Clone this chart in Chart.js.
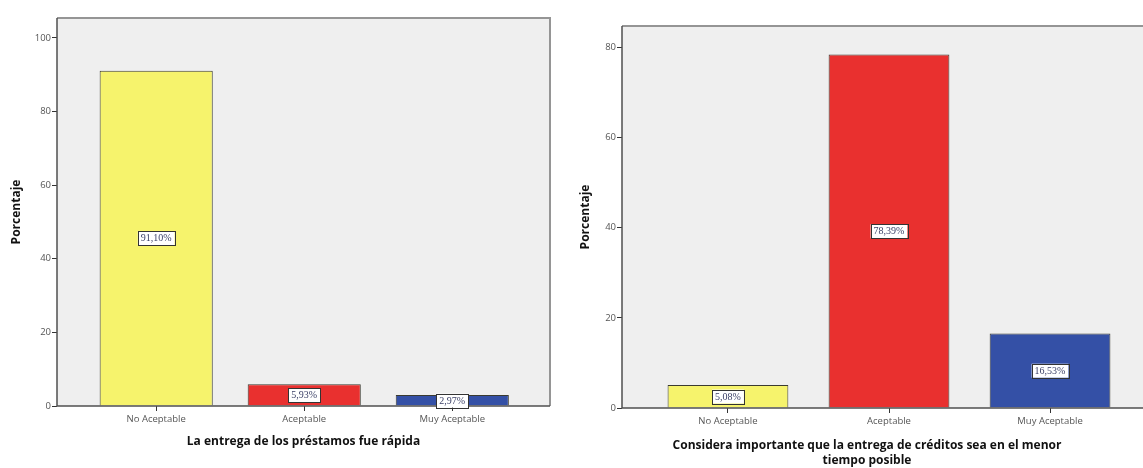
<!DOCTYPE html>
<html>
<head>
<meta charset="utf-8">
<script src="https://cdn.jsdelivr.net/npm/chart.js@4.4.1/dist/chart.umd.min.js"></script>
<style>
  html, body { margin: 0; padding: 0; background: #fff; overflow: hidden; width: 1143px; height: 468px; }
  #rapidez { position: absolute; left: 0; top: 0; }
  #importancia { position: absolute; left: 578px; top: 0; }
</style>
</head>
<body>
<canvas id="rapidez" width="565" height="468"></canvas>
<canvas id="importancia" width="592" height="468"></canvas>
<script>
// Categorías de respuesta
const categorias = ['No Aceptable', 'Aceptable', 'Muy Aceptable'];

// Porcentajes por pregunta
const entregaRapida = [91.10, 5.93, 2.97];
const entregaMenorTiempo = [5.08, 78.39, 16.53];

// Marcas del eje Y
const ticksRapida = [0, 20, 40, 60, 80, 100];
const ticksMenorTiempo = [0, 20, 40, 60, 80];

// Textos
const tituloEjeY = 'Porcentaje';
const tituloRapida = 'La entrega de los préstamos fue rápida';
const tituloMenorTiempo = ['Considera importante que la entrega de créditos sea en el menor', 'tiempo posible'];

const coloresBarras = ['#f6f36c', '#e9302f', '#3450a6'];
const fuenteTexto = '"Open Sans", "DejaVu Sans", sans-serif';

// Fondo gris y marco del área de trazado
const marcoPlot = {
  id: 'marcoPlot',
  beforeDraw(chart) {
    const { ctx, chartArea: a } = chart;
    ctx.save();
    ctx.fillStyle = '#efefef';
    ctx.fillRect(a.left, a.top, a.right - a.left, a.bottom - a.top);
    ctx.restore();
  },
  afterDatasetsDraw(chart) {
    const { ctx, chartArea: a } = chart;
    ctx.save();
    ctx.strokeStyle = '#959595';
    ctx.lineWidth = 2;
    ctx.beginPath();
    ctx.moveTo(a.left, a.top);
    ctx.lineTo(a.right, a.top);
    ctx.lineTo(a.right, a.bottom);
    ctx.stroke();
    ctx.strokeStyle = '#505050';
    ctx.lineWidth = 1.5;
    ctx.beginPath();
    ctx.moveTo(a.left, a.top);
    ctx.lineTo(a.left, a.bottom);
    ctx.lineTo(a.right, a.bottom);
    ctx.stroke();
    ctx.restore();
  }
};

// Etiqueta de porcentaje en el centro de cada barra
const etiquetasValor = {
  id: 'etiquetasValor',
  afterDatasetsDraw(chart) {
    const { ctx } = chart;
    const yScale = chart.scales.y;
    chart.data.datasets.forEach((ds, di) => {
      chart.getDatasetMeta(di).data.forEach((bar, i) => {
        const v = ds.data[i].y;
        const texto = v.toFixed(2).replace('.', ',') + '%';
        const cy = yScale.getPixelForValue(v / 2);
        ctx.save();
        ctx.font = '10px "Liberation Serif", serif';
        const w = ctx.measureText(texto).width + 6;
        const h = 14;
        ctx.fillStyle = '#ffffff';
        ctx.fillRect(bar.x - w / 2, cy - h / 2, w, h);
        ctx.strokeStyle = '#333333';
        ctx.lineWidth = 1;
        ctx.strokeRect(Math.round(bar.x - w / 2) + 0.5, Math.round(cy - h / 2) + 0.5, Math.round(w), h);
        ctx.fillStyle = '#3a3f66';
        ctx.textAlign = 'center';
        ctx.textBaseline = 'middle';
        ctx.fillText(texto, bar.x, cy + 0.5);
        ctx.restore();
      });
    });
  }
};

function crearGrafico(id, valores, cfg) {
  const datos = categorias.map((c, i) => ({ x: i, y: valores[i] }));
  return new Chart(document.getElementById(id), {
    type: 'bar',
    data: {
      datasets: [{
        data: datos,
        backgroundColor: coloresBarras,
        borderColor: '#3a3a30',
        borderWidth: 1,
        categoryPercentage: 1,
        barPercentage: cfg.anchoBarra
      }]
    },
    options: {
      responsive: false,
      animation: false,
      events: [],
      layout: { padding: { left: 0, right: cfg.padDer, top: cfg.padSup, bottom: 0 } },
      plugins: {
        legend: { display: false },
        tooltip: { enabled: false },
        title: cfg.tituloGrafico
      },
      scales: {
        x: {
          type: 'linear',
          bounds: 'data',
          offset: false,
          min: cfg.xMin,
          max: cfg.xMax,
          afterBuildTicks: s => { s.ticks = categorias.map((c, i) => ({ value: i })); },
          afterFit: s => { s.height = cfg.altoEjeX; },
          ticks: {
            callback: v => categorias[v],
            autoSkip: false,
            maxRotation: 0,
            padding: 3,
            color: '#555',
            font: { family: fuenteTexto, size: 9.5 }
          },
          grid: { display: true, offset: false, drawOnChartArea: false, drawTicks: true, tickLength: 5, color: '#333', lineWidth: 1 },
          border: { display: false },
          title: cfg.tituloEjeX
        },
        y: {
          type: 'linear',
          bounds: 'data',
          min: 0,
          max: cfg.yMax,
          afterBuildTicks: s => { s.ticks = cfg.marcas.map(v => ({ value: v })); },
          afterFit: s => { s.width = cfg.anchoEjeY; },
          ticks: {
            padding: 1,
            color: '#555',
            font: { family: fuenteTexto, size: 9.5 }
          },
          grid: { display: true, drawOnChartArea: false, drawTicks: true, tickLength: 5, color: '#333', lineWidth: 1 },
          border: { display: false },
          title: {
            display: true,
            text: tituloEjeY,
            color: '#111',
            font: { family: fuenteTexto, size: 12, weight: 'bold', lineHeight: 1.25 },
            padding: { top: cfg.padTituloY, bottom: 0 }
          }
        }
      }
    },
    plugins: [marcoPlot, etiquetasValor]
  });
}

crearGrafico('rapidez', entregaRapida, {
  anchoBarra: 0.764,
  padDer: 15,
  padSup: 18,
  xMin: -0.67,
  xMax: 2.66,
  yMax: 105.4,
  marcas: ticksRapida,
  altoEjeX: 62,
  anchoEjeY: 57,
  padTituloY: 9.5,
  tituloGrafico: { display: false },
  tituloEjeX: {
    display: true,
    text: tituloRapida,
    color: '#111',
    font: { family: fuenteTexto, size: 12, weight: 'bold', lineHeight: 1.25 },
    padding: { top: 0, bottom: 18.5 }
  }
});

crearGrafico('importancia', entregaMenorTiempo, {
  anchoBarra: 0.75,
  padDer: 14,
  padSup: 26,
  xMin: -0.658,
  xMax: 2.658,
  yMax: 84.7,
  marcas: ticksMenorTiempo,
  altoEjeX: 30,
  anchoEjeY: 44,
  padTituloY: 0,
  tituloGrafico: {
    display: true,
    position: 'bottom',
    text: tituloMenorTiempo,
    color: '#111',
    font: { family: fuenteTexto, size: 12, weight: 'bold', lineHeight: 1.25 },
    padding: { top: 0, bottom: 0 }
  },
  tituloEjeX: { display: false }
});
</script>
</body>
</html>
